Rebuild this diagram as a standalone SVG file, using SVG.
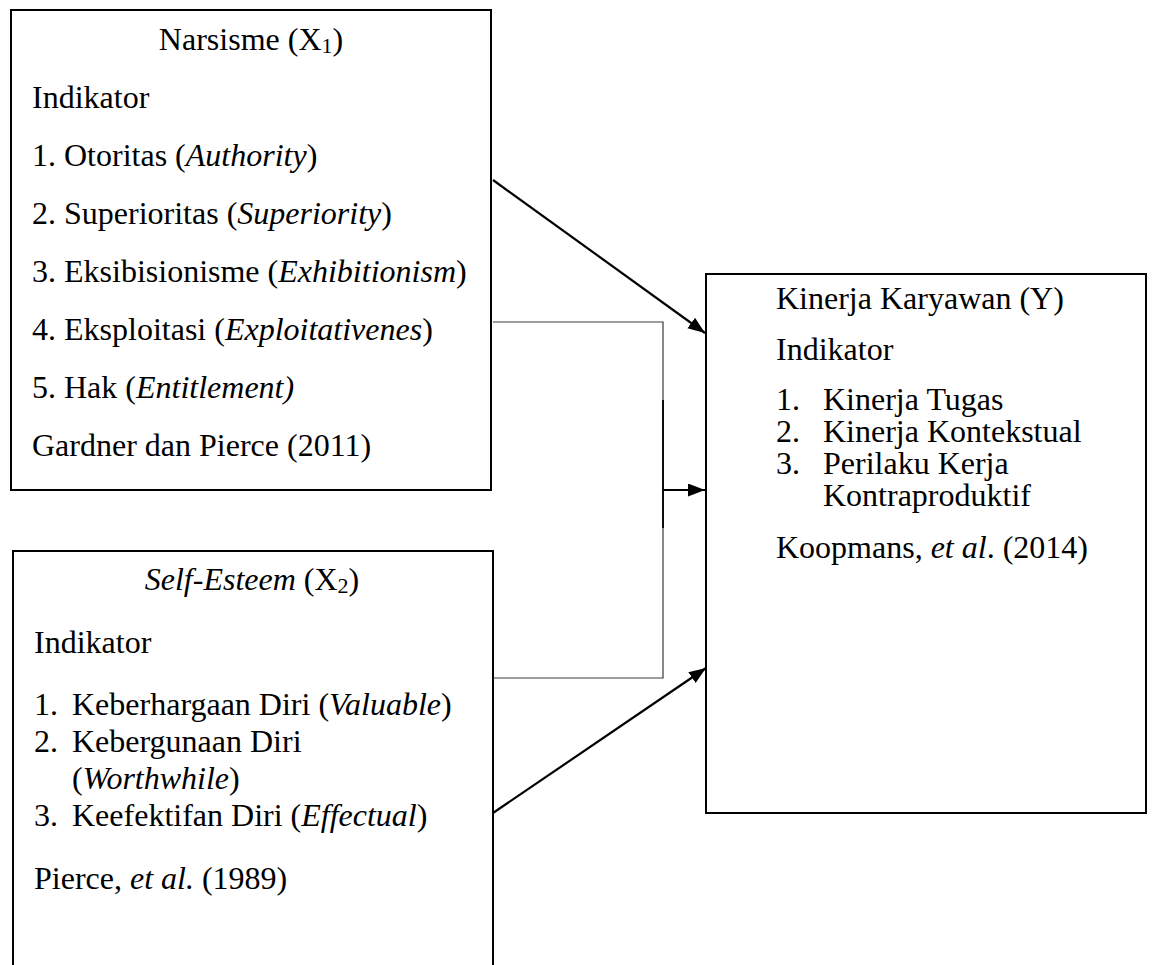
<svg xmlns="http://www.w3.org/2000/svg" width="1152" height="965" viewBox="0 0 1152 965">
<style>
  .box { fill: #ffffff; stroke: #000000; stroke-width: 2; }
  .t { font-family: 'Liberation Serif', 'Times New Roman', serif; font-size: 32px; fill: #000000; }
  .c { text-anchor: middle; }
  .i { font-style: italic; }
  .arrow { stroke: #000000; stroke-width: 2.2; fill: none; }
  .thin { stroke: #3a3a3a; stroke-width: 1.2; fill: none; }
</style>
<defs>
  <marker id="ah" markerUnits="userSpaceOnUse" markerWidth="18" markerHeight="14" refX="17" refY="6.5" orient="auto">
    <path d="M0,0 L17,6.5 L0,13 z" fill="#000000"/>
  </marker>
</defs>
<rect width="1152" height="965" fill="#ffffff"/>

<g id="node-narsisme">
  <rect class="box" x="11" y="10" width="480" height="480"/>
  <text class="t c" x="251" y="50">Narsisme (X<tspan font-size="22" dy="3">1</tspan><tspan dy="-3">)</tspan></text>
  <text class="t" x="32" y="108">Indikator</text>
  <text class="t" x="32" y="166">1. Otoritas (<tspan class="i">Authority</tspan>)</text>
  <text class="t" x="32" y="224">2. Superioritas (<tspan class="i">Superiority</tspan>)</text>
  <text class="t" x="32" y="282">3. Eksibisionisme (<tspan class="i">Exhibitionism</tspan>)</text>
  <text class="t" x="32" y="340">4. Eksploitasi (<tspan class="i">Exploitativenes</tspan>)</text>
  <text class="t" x="32" y="398">5. Hak (<tspan class="i">Entitlement)</tspan></text>
  <text class="t" x="32" y="456">Gardner dan Pierce (2011)</text>
</g>

<g id="node-self-esteem">
  <rect class="box" x="13" y="551" width="480" height="425"/>
  <text class="t c" x="252" y="590"><tspan class="i">Self-Esteem</tspan> (X<tspan font-size="22" dy="3">2</tspan><tspan dy="-3">)</tspan></text>
  <text class="t" x="34" y="653">Indikator</text>
  <text class="t" x="34" y="715">1.</text>
  <text class="t" x="72" y="715">Keberhargaan Diri (<tspan class="i">Valuable</tspan>)</text>
  <text class="t" x="34" y="752">2.</text>
  <text class="t" x="72" y="752">Kebergunaan Diri</text>
  <text class="t" x="72" y="789">(<tspan class="i">Worthwhile</tspan>)</text>
  <text class="t" x="34" y="826">3.</text>
  <text class="t" x="72" y="826">Keefektifan Diri (<tspan class="i">Effectual</tspan>)</text>
  <text class="t" x="34" y="889">Pierce, <tspan class="i">et al.</tspan> (1989)</text>
</g>

<g id="node-kinerja">
  <rect class="box" x="706" y="274" width="440" height="539"/>
  <text class="t" x="776" y="309">Kinerja Karyawan (Y)</text>
  <text class="t" x="776" y="360">Indikator</text>
  <text class="t" x="776" y="410">1.</text>
  <text class="t" x="823" y="410">Kinerja Tugas</text>
  <text class="t" x="776" y="442">2.</text>
  <text class="t" x="823" y="442">Kinerja Kontekstual</text>
  <text class="t" x="776" y="474">3.</text>
  <text class="t" x="823" y="474">Perilaku Kerja</text>
  <text class="t" x="823" y="506">Kontraproduktif</text>
  <text class="t" x="776" y="558">Koopmans, <tspan class="i">et al</tspan>. (2014)</text>
</g>

<g id="connectors">
  <line class="arrow" x1="493" y1="180" x2="705" y2="333" marker-end="url(#ah)"/>
  <polyline class="thin" points="493,322 663,322 663,678 493,678"/>
  <line stroke="#000000" stroke-width="1.8" x1="663" y1="400" x2="663" y2="528"/>
  <line class="arrow" x1="663" y1="490" x2="705" y2="490" marker-end="url(#ah)"/>
  <line class="arrow" x1="493" y1="813" x2="706" y2="668" marker-end="url(#ah)"/>
</g>
</svg>
